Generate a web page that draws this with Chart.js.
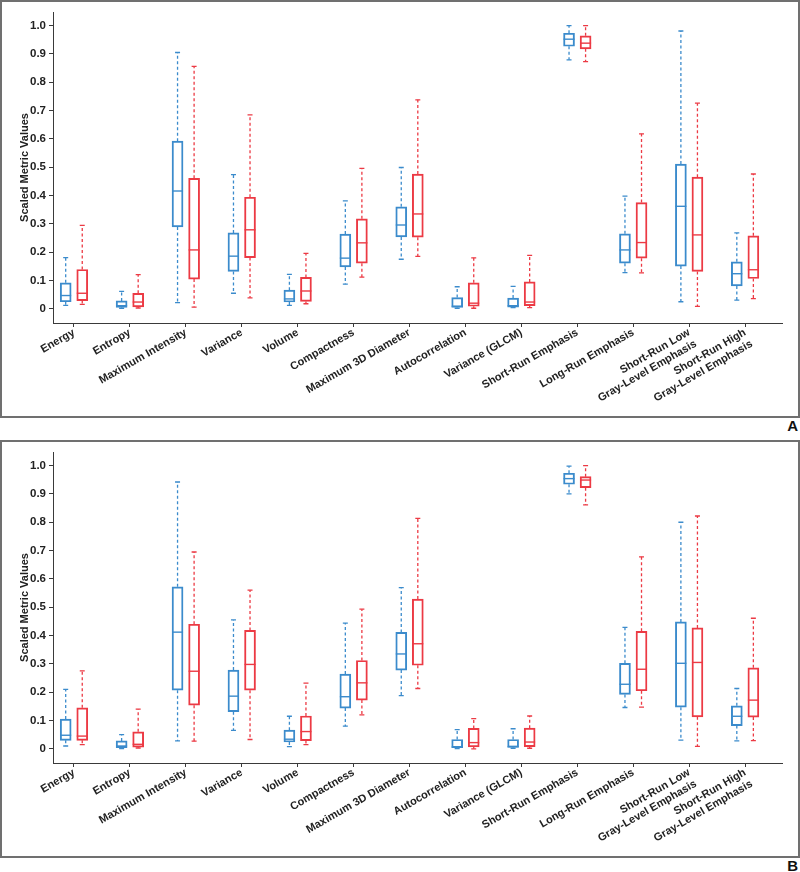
<!DOCTYPE html>
<html>
<head>
<meta charset="utf-8">
<script src="https://cdn.jsdelivr.net/npm/chart.js@4.4.1/dist/chart.umd.min.js"></script>
<style>
  body { margin: 0; background: #fff; }
  .panel { position: absolute; left: 0; width: 796px; height: 414px; border: 2px solid #707070; }
  .tag { position: absolute; right: 2px; font: bold 15px "Liberation Sans", Arial, sans-serif; line-height: 15px; color: #111; }
</style>
</head>
<body>
<div class="panel" style="top:0"><canvas id="chartA" width="796" height="414"></canvas></div>
<div class="tag" style="top:418px">A</div>
<div class="panel" style="top:440px"><canvas id="chartB" width="796" height="414"></canvas></div>
<div class="tag" style="top:858px">B</div>
<script>
const categories = [
  "Energy",
  "Entropy",
  "Maximum Intensity",
  "Variance",
  "Volume",
  "Compactness",
  "Maximum 3D Diameter",
  "Autocorrelation",
  "Variance (GLCM)",
  "Short-Run Emphasis",
  "Long-Run Emphasis",
  ["Short-Run Low", "Gray-Level Emphasis"],
  ["Short-Run High", "Gray-Level Emphasis"],
];
const yTicks = [0, 0.1, 0.2, 0.3, 0.4, 0.5, 0.6, 0.7, 0.8, 0.9, 1.0];

// panel A, blue group
const aBlueLow = [0.012, 0.002, 0.022, 0.055, 0.012, 0.087, 0.175, 0.002, 0.004, 0.879, 0.128, 0.025, 0.031];
const aBlueQ1 = [0.025, 0.005, 0.289, 0.132, 0.024, 0.148, 0.254, 0.005, 0.006, 0.927, 0.161, 0.151, 0.081];
const aBlueMed = [0.047, 0.011, 0.416, 0.186, 0.035, 0.179, 0.296, 0.009, 0.011, 0.952, 0.208, 0.362, 0.124];
const aBlueQ3 = [0.092, 0.028, 0.592, 0.268, 0.066, 0.264, 0.360, 0.040, 0.038, 0.973, 0.265, 0.511, 0.166];
const aBlueHigh = [0.181, 0.062, 0.905, 0.474, 0.122, 0.381, 0.499, 0.078, 0.079, 1.000, 0.398, 0.981, 0.268];
// panel A, red group
const aRedLow = [0.016, 0.003, 0.006, 0.039, 0.018, 0.112, 0.185, 0.002, 0.004, 0.873, 0.127, 0.009, 0.036];
const aRedQ1 = [0.029, 0.007, 0.105, 0.181, 0.026, 0.161, 0.253, 0.009, 0.011, 0.918, 0.179, 0.132, 0.107];
const aRedMed = [0.055, 0.024, 0.208, 0.279, 0.063, 0.233, 0.335, 0.020, 0.024, 0.938, 0.234, 0.261, 0.138];
const aRedQ3 = [0.139, 0.055, 0.461, 0.394, 0.111, 0.318, 0.476, 0.092, 0.095, 0.964, 0.375, 0.465, 0.258];
const aRedHigh = [0.295, 0.121, 0.856, 0.685, 0.196, 0.496, 0.738, 0.180, 0.189, 1.000, 0.618, 0.726, 0.476];

// panel B, blue group
const bBlueLow = [0.010, 0.001, 0.028, 0.065, 0.008, 0.080, 0.188, 0.001, 0.002, 0.900, 0.146, 0.031, 0.028];
const bBlueQ1 = [0.030, 0.004, 0.207, 0.131, 0.024, 0.144, 0.278, 0.004, 0.005, 0.934, 0.192, 0.147, 0.082];
const bBlueMed = [0.048, 0.010, 0.412, 0.186, 0.034, 0.184, 0.335, 0.007, 0.008, 0.954, 0.228, 0.302, 0.115];
const bBlueQ3 = [0.105, 0.028, 0.572, 0.278, 0.066, 0.264, 0.411, 0.033, 0.033, 0.973, 0.302, 0.448, 0.152];
const bBlueHigh = [0.210, 0.050, 0.942, 0.455, 0.115, 0.444, 0.569, 0.068, 0.071, 0.998, 0.429, 0.800, 0.213];
// panel B, red group
const bRedLow = [0.015, 0.003, 0.027, 0.033, 0.015, 0.120, 0.213, 0.000, 0.002, 0.861, 0.147, 0.009, 0.029];
const bRedQ1 = [0.030, 0.006, 0.154, 0.207, 0.029, 0.172, 0.295, 0.007, 0.008, 0.922, 0.205, 0.113, 0.112];
const bRedMed = [0.045, 0.016, 0.274, 0.298, 0.061, 0.233, 0.371, 0.022, 0.024, 0.949, 0.281, 0.305, 0.172];
const bRedQ3 = [0.145, 0.060, 0.440, 0.418, 0.116, 0.312, 0.529, 0.072, 0.073, 0.961, 0.415, 0.427, 0.286];
const bRedHigh = [0.275, 0.140, 0.695, 0.560, 0.232, 0.493, 0.814, 0.107, 0.116, 1.000, 0.678, 0.822, 0.461];

const BLUE = "#3b8bcc";
const RED = "#ec3a44";
const AXIS = "#3a3a3a";
const GROUP_SHIFT = 0.148;

Chart.defaults.font.family = "'Liberation Sans', Arial, sans-serif";
Chart.defaults.color = "#222";

/**
 * Whiskers, caps and median lines, drawn on top of the floating bars (boxes)
 */
const boxWhiskers = {
  id: "boxWhiskers",
  afterDatasetsDraw(chart) {
    const ctx = chart.ctx;
    const yScale = chart.scales.y;
    chart.data.datasets.forEach((ds, di) => {
      const meta = chart.getDatasetMeta(di);
      meta.data.forEach((bar, i) => {
        const x = bar.x;
        const half = bar.width / 2;
        const yLow = yScale.getPixelForValue(ds.low[i]);
        const yQ1 = yScale.getPixelForValue(ds.q1[i]);
        const yMed = yScale.getPixelForValue(ds.med[i]);
        const yQ3 = yScale.getPixelForValue(ds.q3[i]);
        const yHigh = yScale.getPixelForValue(ds.high[i]);
        ctx.save();
        ctx.strokeStyle = ds.borderColor;
        ctx.lineWidth = 1.3;
        ctx.setLineDash([3, 2.5]);
        ctx.beginPath();
        ctx.moveTo(x, yQ3);
        ctx.lineTo(x, yHigh);
        ctx.moveTo(x, yQ1);
        ctx.lineTo(x, yLow);
        ctx.stroke();
        ctx.setLineDash([]);
        ctx.beginPath();
        ctx.moveTo(x - 2.5, yHigh);
        ctx.lineTo(x + 2.5, yHigh);
        ctx.moveTo(x - 2.5, yLow);
        ctx.lineTo(x + 2.5, yLow);
        ctx.stroke();
        ctx.lineWidth = 1.4;
        ctx.beginPath();
        ctx.moveTo(x - half, yMed);
        ctx.lineTo(x + half, yMed);
        ctx.stroke();
        ctx.restore();
      });
    });
  },
};

const makeBoxDataset = (color, shift, low, q1, med, q3, high) => ({
  data: categories.map((c, i) => ({ x: i + shift, y: [q1[i], q3[i]] })),
  low,
  q1,
  med,
  q3,
  high,
  backgroundColor: "rgba(255,255,255,0)",
  borderColor: color,
  borderWidth: 1.3,
  borderSkipped: false,
  grouped: false,
  barThickness: 11,
});

const createChartOptions = () => ({
  responsive: false,
  animation: false,
  events: [],
  layout: { padding: { top: 10, right: 16, left: 0, bottom: 0 } },
  plugins: { legend: { display: false }, tooltip: { enabled: false } },
  scales: {
    x: {
      type: "linear",
      offset: false,
      min: -0.375,
      max: 12.66,
      afterBuildTicks: (scale) => {
        scale.ticks = categories.map((c, i) => ({ value: i }));
      },
      afterFit: (scale) => {
        scale.height = 93;
      },
      ticks: {
        autoSkip: false,
        minRotation: 30,
        maxRotation: 30,
        padding: -1,
        color: "#222",
        font: { size: 11, weight: "bold" },
        callback: (value) => categories[value],
      },
      grid: {
        offset: false,
        drawOnChartArea: false,
        drawTicks: true,
        tickLength: 4,
        color: AXIS,
      },
      border: { display: true, color: AXIS, width: 1 },
    },
    y: {
      min: -0.05,
      max: 1.048,
      afterBuildTicks: (scale) => {
        scale.ticks = yTicks.map((v) => ({ value: v }));
      },
      afterFit: (scale) => {
        scale.width = 51;
      },
      ticks: {
        padding: 3,
        color: "#222",
        font: { size: 11.5, weight: "bold" },
        callback: (value) => (value === 0 ? "0" : value.toFixed(1)),
      },
      grid: {
        drawOnChartArea: false,
        drawTicks: true,
        tickLength: 4,
        color: AXIS,
      },
      border: { display: true, color: AXIS, width: 1 },
      title: {
        display: true,
        text: "Scaled Metric Values",
        color: "#222",
        font: { size: 11, weight: "bold" },
        padding: { top: 16, bottom: 0 },
      },
    },
  },
});

const drawPanel = (id, blue, red) => {
  new Chart(document.getElementById(id), {
    type: "bar",
    data: {
      datasets: [
        makeBoxDataset(BLUE, -GROUP_SHIFT, ...blue),
        makeBoxDataset(RED, GROUP_SHIFT, ...red),
      ],
    },
    options: createChartOptions(),
    plugins: [boxWhiskers],
  });
};

drawPanel("chartA",
  [aBlueLow, aBlueQ1, aBlueMed, aBlueQ3, aBlueHigh],
  [aRedLow, aRedQ1, aRedMed, aRedQ3, aRedHigh]);
drawPanel("chartB",
  [bBlueLow, bBlueQ1, bBlueMed, bBlueQ3, bBlueHigh],
  [bRedLow, bRedQ1, bRedMed, bRedQ3, bRedHigh]);
</script>
</body>
</html>
